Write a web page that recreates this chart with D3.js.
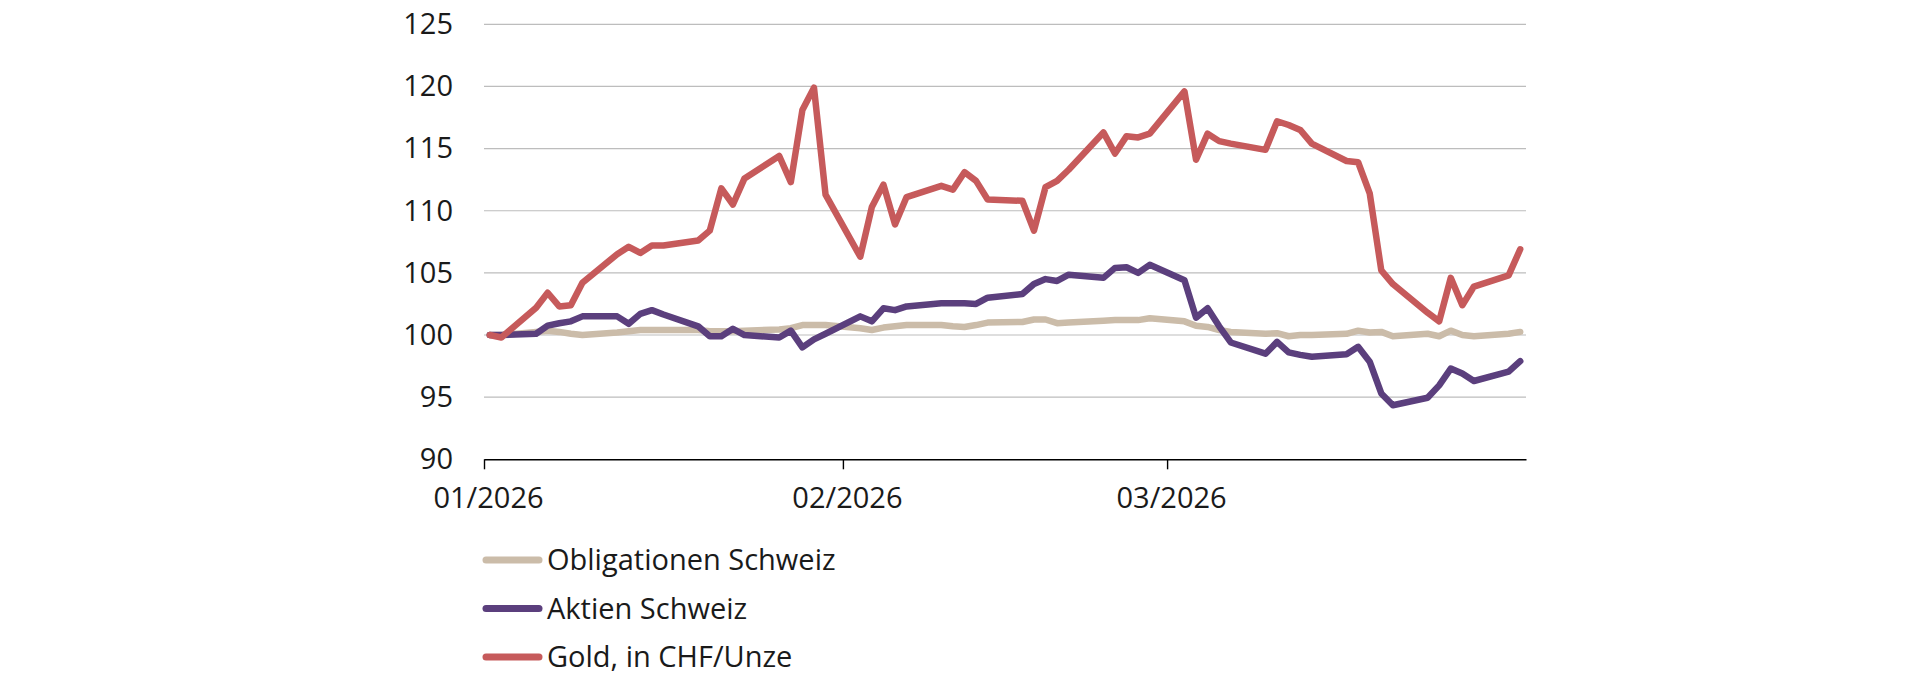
<!DOCTYPE html>
<html>
    <head>
        <meta charset="utf-8">
        <title>Obligationen, Aktien, Gold</title>
        <script type="text/javascript" src="https://cdn.jsdelivr.net/npm/d3@7/dist/d3.min.js"></script>
        <style>
            body { margin: 0; background: #fff; }
            text { font-family: "Open Sans", "Noto Sans", sans-serif; fill: #1a1a1a; }
        </style>
    </head>
    <body>
        <script type="text/javascript">
            // trading days shown in the chart
            var dates = [
                "2026-01-01","2026-01-02","2026-01-05","2026-01-06","2026-01-07","2026-01-08","2026-01-09",
                "2026-01-12","2026-01-13","2026-01-14","2026-01-15","2026-01-16",
                "2026-01-19","2026-01-20","2026-01-21","2026-01-22","2026-01-23",
                "2026-01-26","2026-01-27","2026-01-28","2026-01-29","2026-01-30",
                "2026-02-02","2026-02-03","2026-02-04","2026-02-05","2026-02-06",
                "2026-02-09","2026-02-10","2026-02-11","2026-02-12","2026-02-13",
                "2026-02-16","2026-02-17","2026-02-18","2026-02-19","2026-02-20",
                "2026-02-23","2026-02-24","2026-02-25","2026-02-26","2026-02-27",
                "2026-03-02","2026-03-03","2026-03-04","2026-03-05","2026-03-06",
                "2026-03-09","2026-03-10","2026-03-11","2026-03-12","2026-03-13",
                "2026-03-16","2026-03-17","2026-03-18","2026-03-19","2026-03-20",
                "2026-03-23","2026-03-24","2026-03-25","2026-03-26","2026-03-27",
                "2026-03-30","2026-03-31"
            ];

            var obligationen = [
                100.0, 100.0, 100.25, 100.35, 100.25, 100.1, 100.0,
                100.2, 100.3, 100.4, 100.4, 100.4,
                100.4, 100.3, 100.3, 100.3, 100.35,
                100.45, 100.55, 100.8, 100.8, 100.8,
                100.55, 100.4, 100.6, 100.7, 100.8,
                100.8, 100.7, 100.65, 100.8, 101.0,
                101.05, 101.25, 101.25, 100.95, 101.0,
                101.15, 101.2, 101.2, 101.2, 101.35,
                101.1, 100.75, 100.65, 100.4, 100.25,
                100.1, 100.15, 99.9, 100.0, 100.0,
                100.1, 100.35, 100.2, 100.25, 99.9,
                100.1, 99.9, 100.35, 100.0, 99.9,
                100.1, 100.25
            ];

            var aktien = [
                100.0, 100.0, 100.1, 100.75, 100.95, 101.1, 101.5,
                101.5, 100.9, 101.7, 102.0, 101.65,
                100.7, 99.9, 99.9, 100.5, 100.0,
                99.8, 100.35, 99.0, 99.65, 100.1,
                101.5, 101.1, 102.15, 102.0, 102.3,
                102.55, 102.55, 102.55, 102.5, 103.0,
                103.3, 104.1, 104.5, 104.35, 104.85,
                104.6, 105.4, 105.45, 105.0, 105.65,
                104.4, 101.4, 102.15, 100.7, 99.4,
                98.5, 99.45, 98.6, 98.4, 98.25,
                98.45, 99.05, 97.85, 95.3, 94.35,
                94.95, 95.95, 97.3, 96.9, 96.3,
                97.05, 97.9
            ];

            var gold = [
                100.0, 99.8, 102.2, 103.4, 102.3, 102.4, 104.2,
                106.5, 107.1, 106.6, 107.2, 107.2,
                107.6, 108.4, 111.8, 110.5, 112.6,
                114.4, 112.3, 118.1, 119.9, 111.3,
                106.3, 110.3, 112.1, 108.9, 111.1,
                112.0, 111.7, 113.1, 112.4, 110.9,
                110.8, 108.4, 111.9, 112.4, 113.3,
                116.3, 114.6, 116.0, 115.9, 116.2,
                119.6, 114.1, 116.2, 115.6, 115.4,
                114.9, 117.2, 116.9, 116.5, 115.4,
                114.0, 113.9, 111.4, 105.2, 104.1,
                101.8, 101.1, 104.6, 102.4, 103.9,
                104.8, 106.9
            ];

            var seriesNames = ["Obligationen Schweiz", "Aktien Schweiz", "Gold, in CHF/Unze"];
            var seriesColors = ["#cbbca9", "#5b3f7d", "#c65a5b"];
            var seriesValues = [obligationen, aktien, gold];

            var yTicks = [90, 95, 100, 105, 110, 115, 120, 125];
            var monthTicks = ["2026-01-01", "2026-02-01", "2026-03-01"];

            var parseDate = d3.timeParse("%Y-%m-%d");
            var parsedDates = dates.map(parseDate);

            var svg = d3.select("body").append("svg").attr("width", 1920).attr("height", 680);

            var x = d3.scaleTime()
                .domain([parseDate("2026-01-01"), parseDate("2026-04-01")])
                .range([484, 1526]);
            var y = d3.scaleLinear().domain([90, 125]).range([459.3, 24.3]);

            // each day takes one slot, the point sits in its middle
            function xMid(d) { return x(d3.timeHour.offset(d, 12)); }

            // gridlines
            svg.append("g")
                .selectAll("line")
                .data(yTicks.filter(function (t) { return t > 90; }))
                .enter().append("line")
                .attr("x1", x.range()[0]).attr("x2", x.range()[1])
                .attr("y1", function (d) { return y(d); })
                .attr("y2", function (d) { return y(d); })
                .attr("stroke", "#bdbdbd").attr("stroke-width", 1.2);

            // y labels
            var yAxis = d3.axisLeft(y).tickValues(yTicks).tickSize(0).tickPadding(31);
            var gy = svg.append("g").attr("transform", "translate(484,0)").call(yAxis);
            gy.select(".domain").remove();
            gy.selectAll("text").style("font-size", "29px").attr("fill", "#1a1a1a");

            // x axis
            var xAxis = d3.axisBottom(x)
                .tickValues(monthTicks.map(parseDate))
                .tickFormat(d3.timeFormat("%m/%Y"))
                .tickSize(10).tickSizeOuter(0).tickPadding(18);
            var gx = svg.append("g").attr("transform", "translate(0," + y(90) + ")").call(xAxis);
            gx.select(".domain").attr("stroke", "#000").attr("stroke-width", 1.4);
            gx.selectAll(".tick line").attr("stroke", "#000").attr("stroke-width", 1.4);
            gx.selectAll("text").style("font-size", "29px").attr("fill", "#1a1a1a").attr("dx", 4);

            // lines
            var line = d3.line()
                .x(function (d, i) { return xMid(parsedDates[i]); })
                .y(function (d) { return y(d); });

            seriesValues.forEach(function (vals, k) {
                svg.append("path")
                    .attr("d", line(vals))
                    .attr("fill", "none")
                    .attr("stroke", seriesColors[k])
                    .attr("stroke-width", 6.5)
                    .attr("stroke-linejoin", "round")
                    .attr("stroke-linecap", "round");
            });

            // legend
            var legend = svg.append("g").attr("transform", "translate(486,560)");
            seriesNames.forEach(function (name, k) {
                var row = legend.append("g").attr("transform", "translate(0," + (k * 48.5) + ")");
                row.append("line")
                    .attr("x1", 0).attr("x2", 53)
                    .attr("stroke", seriesColors[k])
                    .attr("stroke-width", 7)
                    .attr("stroke-linecap", "round");
                row.append("text")
                    .attr("x", 61).attr("y", 0).attr("dy", "0.35em")
                    .style("font-size", "29px")
                    .text(name);
            });
        </script>
    </body>
</html>
